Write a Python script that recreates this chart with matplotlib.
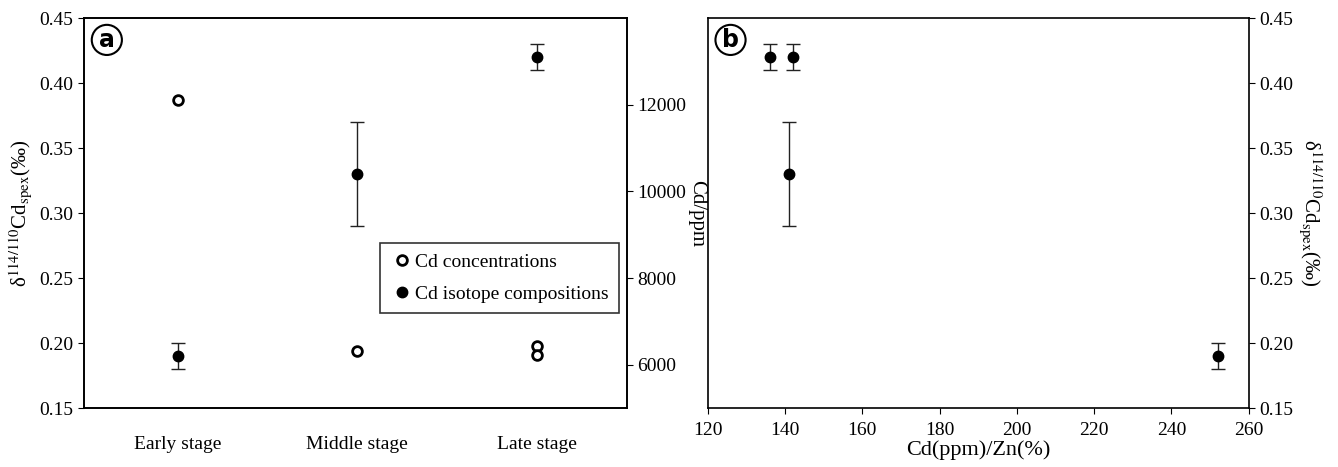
import numpy as np
import matplotlib
matplotlib.use("Agg")
import matplotlib.pyplot as plt
from matplotlib.lines import Line2D

plt.rcParams['font.family'] = ['Liberation Serif', 'DejaVu Serif']
plt.rcParams['mathtext.fontset'] = 'stix'

# ---- data ----
stages = ['Early stage', 'Middle stage', 'Late stage']
stage_pos = [1, 2, 3]
iso_delta = [0.19, 0.33, 0.42]
iso_err = [0.01, 0.04, 0.01]
conc_pos = [1, 2, 3, 3]
cd_ppm = [12120, 6310, 6420, 6230]

ratio_x = [136, 142, 141, 252]
ratio_delta = [0.42, 0.42, 0.33, 0.19]
ratio_err = [0.01, 0.01, 0.04, 0.01]

ylab = 'δ$^{114/110}$Cd$_{\\rm spex}$(‰)'
tick_fs = 14

fig = plt.figure(figsize=(13.38, 4.67), dpi=100)

# ---- panel a ----
ax = fig.add_axes([0.0628, 0.1263, 0.4058, 0.835])
ax.errorbar(stage_pos, iso_delta, yerr=iso_err, fmt='o', color='black', ms=7.5,
            ecolor='#222222', elinewidth=1, capsize=5, capthick=1, zorder=3)
ax.set_xlim(0.48, 3.5)
ax.set_ylim(0.15, 0.45)
yt = np.arange(0.15, 0.451, 0.05)
ax.set_yticks(yt)
ax.set_yticklabels([f'{v:.2f}' for v in yt])
ax.set_xticks(stage_pos)
ax.set_xticklabels(stages)
ax.tick_params(axis='x', length=0, pad=20, labelsize=tick_fs)
ax.tick_params(axis='y', direction='out', length=4, labelsize=tick_fs)
ax.set_ylabel(ylab, fontsize=15, labelpad=4)

ax2 = ax.twinx()
ax2.plot(conc_pos, cd_ppm, 'o', mfc='white', mec='black', mew=2, ms=7, zorder=3)
ax2.set_ylim(5000, 14000)
ax2.set_yticks([6000, 8000, 10000, 12000])
ax2.tick_params(axis='y', direction='out', length=4, labelsize=tick_fs)
ax2.set_ylabel('Cd/ppm', fontsize=15, rotation=270, labelpad=14)

for a in (ax, ax2):
    for s in a.spines.values():
        s.set_linewidth(1.2)

ax.text(0.042, 0.944, 'a', transform=ax.transAxes, fontsize=17, fontweight='bold',
        family='DejaVu Sans', ha='center', va='center',
        bbox=dict(boxstyle='circle,pad=0.13', fc='white', ec='black', lw=1.5))

handles = [Line2D([], [], marker='o', ls='', mfc='white', mec='black', mew=2, ms=7),
           Line2D([], [], marker='o', ls='', color='black', ms=7.5)]
leg = ax2.legend(handles, ['Cd concentrations', 'Cd isotope compositions'],
                 loc='upper right', bbox_to_anchor=(0.985, 0.422), fontsize=14,
                 frameon=True, fancybox=False, edgecolor='black', labelspacing=0.75,
                 handletextpad=0.1, handlelength=1.2, borderpad=0.5, borderaxespad=0)
leg.get_frame().set_linewidth(1.2)

# ---- panel b ----
bx = fig.add_axes([0.529, 0.1263, 0.4043, 0.835])
bx.errorbar(ratio_x, ratio_delta, yerr=ratio_err, fmt='o', color='black', ms=7.5,
            ecolor='#222222', elinewidth=1, capsize=5, capthick=1, zorder=3)
bx.set_xlim(120, 260)
bx.set_ylim(0.15, 0.45)
bx.set_xticks(np.arange(120, 261, 20))
bx.set_yticks(yt)
bx.set_yticklabels([f'{v:.2f}' for v in yt])
bx.yaxis.tick_right()
bx.yaxis.set_label_position('right')
bx.tick_params(direction='out', length=4, labelsize=tick_fs)
bx.tick_params(axis='x', pad=6)
bx.set_xlabel('Cd(ppm)/Zn(%)', fontsize=16, labelpad=1)
bx.set_ylabel(ylab, fontsize=15, rotation=270, labelpad=22)
for s in bx.spines.values():
    s.set_linewidth(1.2)

bx.text(0.042, 0.944, 'b', transform=bx.transAxes, fontsize=17, fontweight='bold',
        family='DejaVu Sans', ha='center', va='center',
        bbox=dict(boxstyle='circle,pad=0.13', fc='white', ec='black', lw=1.5))

fig.savefig('out.png', dpi=100)
